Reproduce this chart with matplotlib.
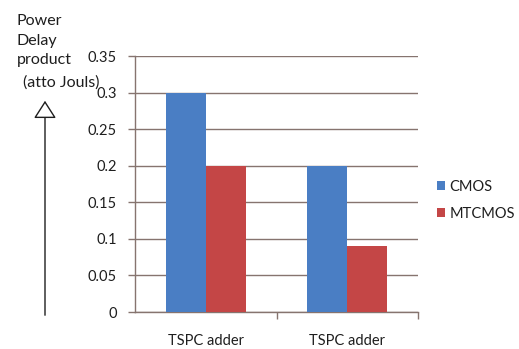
import matplotlib
matplotlib.use("Agg")
import matplotlib.pyplot as plt
import numpy as np

categories = ["TSPC adder", "TSPC adder"]
series_names = ["CMOS", "MTCMOS"]
cmos = [0.30, 0.20]
mtcmos = [0.20, 0.09]
yticks = [0, 0.05, 0.1, 0.15, 0.2, 0.25, 0.3, 0.35]
ytick_labels = ["0", "0.05", "0.1", "0.15", "0.2", "0.25", "0.3", "0.35"]

plt.rcParams["font.family"] = ["Lato", "DejaVu Sans"]

W, H = 519, 349
fig = plt.figure(figsize=(W / 100, H / 100), dpi=100)
fig.patch.set_facecolor("white")

ax = fig.add_axes([135 / W, 37 / H, 283 / W, 256 / H])
grid_c = "#86746f"
blue = "#4a7ec4"
red = "#c44646"
txt_c = "#1e1e1e"

x = np.arange(len(categories))
bw = 0.283
ax.bar(x - bw / 2, cmos, bw, color=blue, label=series_names[0], zorder=3)
ax.bar(x + bw / 2, mtcmos, bw, color=red, label=series_names[1], zorder=3)

ax.set_xlim(-0.5, 1.5)
ax.set_ylim(0, 0.35)
ax.set_yticks(yticks)
ax.set_yticklabels(ytick_labels, fontsize=10.5, color=txt_c)
ax.yaxis.grid(True, color=grid_c, linewidth=1.0, zorder=0)
ax.tick_params(axis="y", length=5, color=grid_c, width=1.0, pad=8)

ax.set_xticks(x)
ax.set_xticklabels(categories, fontsize=10.5, color=txt_c)
ax.tick_params(axis="x", length=0, pad=16)
ax.set_xticks([0.5, 1.5], minor=True)
ax.tick_params(axis="x", which="minor", length=5, color=grid_c, width=1.0)

for s in ["top", "right"]:
    ax.spines[s].set_visible(False)
for s in ["left", "bottom"]:
    ax.spines[s].set_color(grid_c)
    ax.spines[s].set_linewidth(1.0)

leg = fig.legend(loc="upper left", bbox_to_anchor=(431 / W, 1 - 174 / H),
                 frameon=False, fontsize=10.5, handlelength=0.55, handleheight=0.55,
                 handletextpad=0.3, labelspacing=0.9, borderaxespad=0.0)
for t in leg.get_texts():
    t.set_color(txt_c)

# axis caption and upward arrow on the left
fig.text(17 / W, 1 - 14 / H, "Power\nDelay\nproduct", ha="left", va="top",
         fontsize=11.5, linespacing=1.5, color=txt_c)
fig.text(23 / W, 1 - 83 / H, "(atto Jouls)", ha="left", va="center",
         fontsize=11.5, color=txt_c)
fig.add_artist(matplotlib.patches.FancyArrowPatch(
    (45 / W, 1 - 318 / H), (45 / W, 1 - 98 / H), transform=fig.transFigure,
    arrowstyle="-|>,head_length=5,head_width=3.2", mutation_scale=2.2,
    facecolor="white", edgecolor=txt_c, linewidth=1.0))

fig.savefig("out.png", dpi=100)
